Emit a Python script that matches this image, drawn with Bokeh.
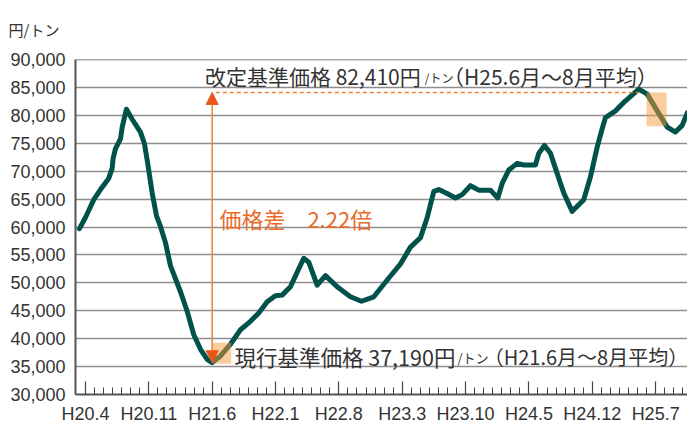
import numpy as np
from bokeh.plotting import figure
from bokeh.models import Range1d, FixedTicker, Label, Arrow, NormalHead, Span, NumeralTickFormatter
from bokeh.embed import file_html
from bokeh.resources import INLINE

# months elapsed since H20.4 (April 2008)
months = [-0.66, 0.0, 0.92, 1.66, 2.57, 2.95, 3.06, 3.31, 3.87, 4.06, 4.53, 5.16, 6.08, 6.52,
          6.88, 7.37, 7.85, 8.29, 8.84, 9.39, 10.5, 11.24, 11.97, 12.71, 13.45, 14.0, 14.92,
          16.02, 17.13, 18.23, 19.15, 20.08, 20.99, 21.73, 22.65, 23.39, 24.12, 24.67, 25.6,
          26.52, 27.81, 29.28, 30.5, 31.86, 33.34, 34.81, 35.91, 37.02, 37.76, 38.49, 39.04,
          39.96, 40.88, 41.62, 42.54, 43.46, 44.75, 45.56, 46.04, 46.77, 47.7, 48.43, 49.72,
          50.09, 50.72, 51.38, 51.75, 52.49, 52.85, 53.78, 55.06, 55.8, 56.54, 57.09, 57.46,
          58.56, 59.67, 61.14, 62.07, 63.17, 64.28, 65.19, 65.93, 66.52]
# price, yen per ton
prices = [59700, 61700, 64900, 66700, 68700, 70500, 72300, 74000, 75800, 77900, 81100, 79300,
          77000, 74900, 71400, 66100, 62000, 60100, 57200, 53100, 48400, 44900, 40700, 38100,
          36300, 35700, 36900, 39000, 41600, 43100, 44600, 46600, 47700, 47800, 49300, 51900,
          54400, 53700, 49600, 51300, 49300, 47500, 46700, 47500, 50500, 53400, 56400, 58100,
          61700, 66400, 66700, 66000, 65200, 65800, 67400, 66600, 66600, 65200, 67800, 70200,
          71400, 71100, 71100, 73200, 74600, 73200, 71400, 67800, 66100, 62800, 64900, 69000,
          74300, 77600, 79600, 80800, 82600, 84700, 83800, 80800, 77900, 77000, 78200, 80500]

tick_months = [0, 7, 14, 21, 28, 35, 42, 49, 56, 63]
tick_labels = ["H20.4", "H20.11", "H21.6", "H22.1", "H22.8", "H23.3", "H23.10",
               "H24.5", "H24.12", "H25.7"]
y_ticks = [30000, 35000, 40000, 45000, 50000, 55000, 60000, 65000, 70000, 75000,
           80000, 85000, 90000]

# averaging periods (H21.6-8 and H25.6-8) and their highlighted price bands
period_start = [14.0, 62.0]
period_end = [16.1, 64.2]
band_low = [35500, 78050]
band_high = [39250, 84100]

current_mark = 35700   # bottom of the arrow
revised_mark = 84100   # top of the arrow / dashed reference line

unit_text = "円/トン"
unit_small = "/トン"
revised_a, revised_c = "改定基準価格 82,410円", "（H25.6月～8月平均）"
current_a, current_c = "現行基準価格 37,190円", "（H21.6月～8月平均）"
ratio_text = "価格差　2.22倍"

JP = "Noto Sans CJK JP"
TXT = "#333333"
ORANGE = "#ee8038"
ORANGE_DARK = "#e8561a"

p = figure(width=687, height=426, output_backend="svg", toolbar_location=None,
           x_range=Range1d(-1.1, 66.52), y_range=Range1d(30000, 90000),
           min_border_left=75, min_border_right=0, min_border_top=55, min_border_bottom=32)
p.outline_line_color = None
p.background_fill_color = "white"
p.border_fill_color = "white"

# unit label (title, top-left)
p.title.text = unit_text
p.title.align = "left"
p.title.offset = -67
p.title.vertical_align = "top"
p.title.standoff = 36
p.title.text_font = JP
p.title.text_font_size = "15px"
p.title.text_font_style = "normal"
p.title.text_color = TXT

# axes
p.xaxis.ticker = FixedTicker(ticks=tick_months, minor_ticks=list(range(0, 67)))
p.xaxis.major_label_overrides = {m: l for m, l in zip(tick_months, tick_labels)}
p.xaxis.major_tick_in = 13
p.xaxis.major_tick_out = 0
p.xaxis.minor_tick_in = 7
p.xaxis.minor_tick_out = 0
p.xaxis.major_tick_line_color = "#444444"
p.xaxis.minor_tick_line_color = "#444444"
p.xaxis.major_tick_line_width = 1.2
p.xaxis.minor_tick_line_width = 1
p.xaxis.major_label_standoff = 9
p.xaxis.major_label_text_font = "Liberation Sans"
p.xaxis.major_label_text_font_size = "18px"
p.xaxis.major_label_text_color = TXT
p.xaxis.axis_line_color = "#555555"
p.xaxis.axis_line_width = 2

p.yaxis.ticker = FixedTicker(ticks=y_ticks)
p.yaxis.formatter = NumeralTickFormatter(format="0,0")
p.yaxis.major_tick_in = 0
p.yaxis.major_tick_out = 0
p.yaxis.minor_tick_line_color = None
p.yaxis.major_label_standoff = 10
p.yaxis.major_label_text_font = "Liberation Sans"
p.yaxis.major_label_text_font_size = "18px"
p.yaxis.major_label_text_color = TXT
p.yaxis.axis_line_color = "#555555"
p.yaxis.axis_line_width = 2

p.xgrid.visible = False
p.ygrid.grid_line_color = "#8e8e8e"
p.ygrid.grid_line_width = 1.5
p.add_layout(Span(location=y_ticks[-1], dimension="width", line_color="#555555", line_width=1.5))

# price line
p.line(months, prices, line_color="#00524a", line_width=5, line_join="round", line_cap="round")

# highlighted averaging periods (drawn over the line)
p.quad(left=period_start, right=period_end, bottom=band_low, top=band_high,
       fill_color="#f7993a", fill_alpha=0.5, line_color=None)

# dashed reference line from the arrow to the peak
peak_month = months[int(np.argmax(prices))]
p.segment(x0=[period_start[0] + 0.4], y0=[revised_mark], x1=[peak_month], y1=[revised_mark],
          line_color=ORANGE, line_width=1.5, line_dash="4 3")

# double-headed arrow
p.add_layout(Arrow(x_start=period_start[0], y_start=current_mark,
                   x_end=period_start[0], y_end=revised_mark,
                   line_color=ORANGE, line_width=1.5,
                   start=NormalHead(size=12, fill_color=ORANGE_DARK, line_color=ORANGE_DARK),
                   end=NormalHead(size=12, fill_color=ORANGE_DARK, line_color=ORANGE_DARK)))

def lab(x, y, text, size, color=TXT):
    p.add_layout(Label(x=x, y=y, text=text, text_font=JP, text_font_size=size,
                       text_color=color, text_align="left", text_baseline="middle"))

# revised price annotation
lab(13.2, 87070, revised_a, "21px")
lab(37.5, 86860, unit_small, "12px")
lab(39.5, 87070, revised_c, "21px")

# current price annotation
lab(16.46, 36810, current_a, "21.5px")
lab(41.1, 36560, unit_small, "13px")
lab(44.0, 36810, current_c, "20px")

# ratio
lab(14.8, 61660, ratio_text, "22px", "#ea6a2a")

open("out.html", "w").write(file_html(p, INLINE))
